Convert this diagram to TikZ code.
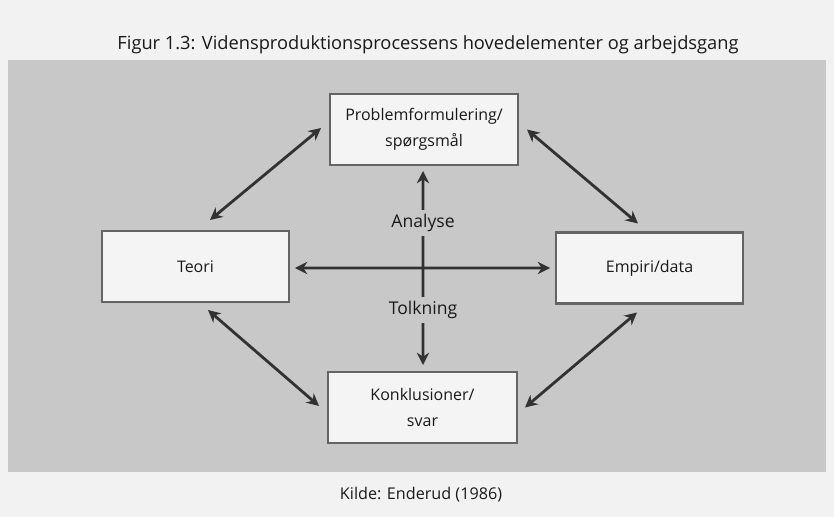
\documentclass[tikz,border=0pt]{standalone}
\usepackage{fontspec}
\setmainfont{Open Sans}
\usetikzlibrary{positioning}
\usetikzlibrary{arrows.meta}

\begin{document}
\begin{tikzpicture}[x=0.02cm, y=-0.02cm, every node/.style={inner sep=0,outer sep=0},
    box/.style={draw=boxline, line width=1.6pt, fill=boxfill, align=center, text=ink,
        minimum height=1.42cm, font=\fontsize{9.1}{14.5}\selectfont},
    link/.style={draw=arrow, line width=1.6pt, {Stealth[length=7pt,width=7pt]}-{Stealth[length=7pt,width=7pt]}},
    tag/.style={fill=band, inner sep=2.5pt, text=ink, font=\fontsize{10}{12}\selectfont}]
        % Colors
        \definecolor{paper}{RGB}{242,242,242}
        \definecolor{band}{RGB}{200,200,200}
        \definecolor{boxfill}{RGB}{244,244,244}
        \definecolor{boxline}{RGB}{100,100,100}
        \definecolor{arrow}{RGB}{50,50,50}
        \definecolor{ink}{RGB}{25,25,25}

        \useasboundingbox (0,0) rectangle (834,517);
        \fill[paper] (0,0) rectangle (834,517);
        \fill[band] (8,60) rectangle (826,472);

        \node[text=ink, font=\fontsize{10.4}{13}\selectfont] (title) at (428,45)
            {Figur 1.3: Vidensproduktionsprocessens hovedelementer og arbejdsgang};

        % Boxes
        \node[box, minimum width=3.76cm] (problem) at (424,129.5) {Problemformulering/\\spørgsmål};
        \node[box, minimum width=3.74cm] (teori) at (195.5,266.5) {Teori};
        \node[box, minimum width=3.74cm] (empiri) at (649.5,268) {Empiri/data};
        \node[box, minimum width=3.78cm] (konkl) at (422.5,407.5) {Konklusioner/\\svar};

        % Cross in the middle
        \draw[link] ([shift={(6,1.5)}]teori.east) -- ([shift={(-6,0)}]empiri.west);
        \draw[link] ([shift={(-1,6)}]problem.south) -- ([shift={(0.5,-7)}]konkl.north);
        \node[tag] (analyse) at (423,223) {Analyse};
        \node[tag] (tolkning) at (423,310) {Tolkning};

        % Diagonals
        \draw[link] ([shift={(14.5,-11)}]teori.north) -- ([shift={(-9,-1.5)}]problem.west);
        \draw[link] ([shift={(9,0)}]problem.east) -- ([shift={(-11.5,-9)}]empiri.north);
        \draw[link] ([shift={(12.5,8)}]teori.south) -- ([shift={(-9,-1.5)}]konkl.west);
        \draw[link] ([shift={(-12.5,9)}]empiri.south) -- ([shift={(8,0)}]konkl.east);

        \node[text=ink, font=\fontsize{9.2}{12}\selectfont] (kilde) at (421,495) {Kilde: Enderud (1986)};
      \end{tikzpicture}
\end{document}
